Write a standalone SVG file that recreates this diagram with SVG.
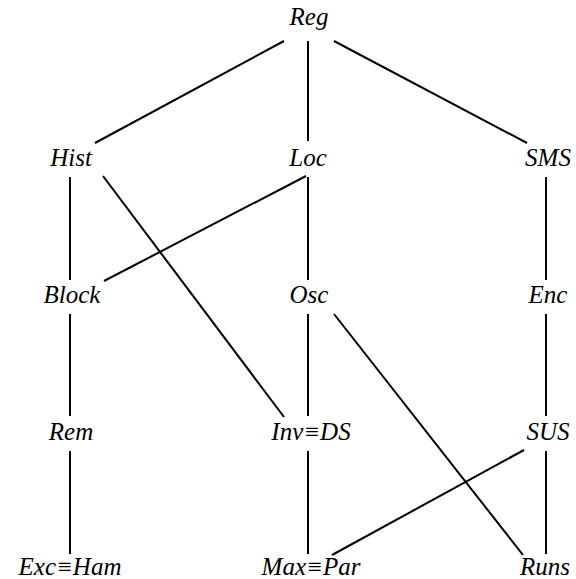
<svg xmlns="http://www.w3.org/2000/svg" width="576" height="579" viewBox="0 0 576 579">
<style>
text{font-family:"Liberation Serif","Times New Roman",serif;font-style:italic;font-size:25px;fill:#000;text-anchor:middle}
.e line{stroke:#000;stroke-width:2}
</style>
<rect width="576" height="579" fill="#fff"/>
<g class="e" id="connectors">
<line x1="284" y1="41" x2="95" y2="143"/>
<line x1="308" y1="41" x2="308" y2="141"/>
<line x1="334" y1="41" x2="527" y2="143"/>
<line x1="70" y1="177" x2="70" y2="280"/>
<line x1="306" y1="176" x2="104" y2="281"/>
<line x1="103" y1="176" x2="284" y2="417"/>
<line x1="308" y1="177" x2="308" y2="280"/>
<line x1="546" y1="177" x2="546" y2="280"/>
<line x1="70" y1="314" x2="70" y2="416"/>
<line x1="308" y1="314" x2="308" y2="416"/>
<line x1="334" y1="314" x2="523" y2="555"/>
<line x1="546" y1="314" x2="546" y2="416"/>
<line x1="70" y1="451" x2="70" y2="554"/>
<line x1="308" y1="451" x2="308" y2="554"/>
<line x1="524" y1="450" x2="332" y2="555"/>
<line x1="546" y1="451" x2="546" y2="554"/>
</g>
<g id="Reg"><text x="309" y="25">Reg</text></g>
<g id="Hist"><text x="71" y="166">Hist</text></g>
<g id="Loc"><text x="308" y="166">Loc</text></g>
<g id="SMS"><text x="548" y="166">SMS</text></g>
<g id="Block"><text x="72" y="303">Block</text></g>
<g id="Osc"><text x="309" y="303">Osc</text></g>
<g id="Enc"><text x="548" y="303">Enc</text></g>
<g id="Rem"><text x="71" y="440">Rem</text></g>
<g id="InvDS"><text x="311" y="440">Inv≡DS</text></g>
<g id="SUS"><text x="548" y="440">SUS</text></g>
<g id="ExcHam"><text x="70" y="575">Exc≡Ham</text></g>
<g id="MaxPar"><text x="311" y="575">Max≡Par</text></g>
<g id="Runs"><text x="545" y="575">Runs</text></g>
</svg>
